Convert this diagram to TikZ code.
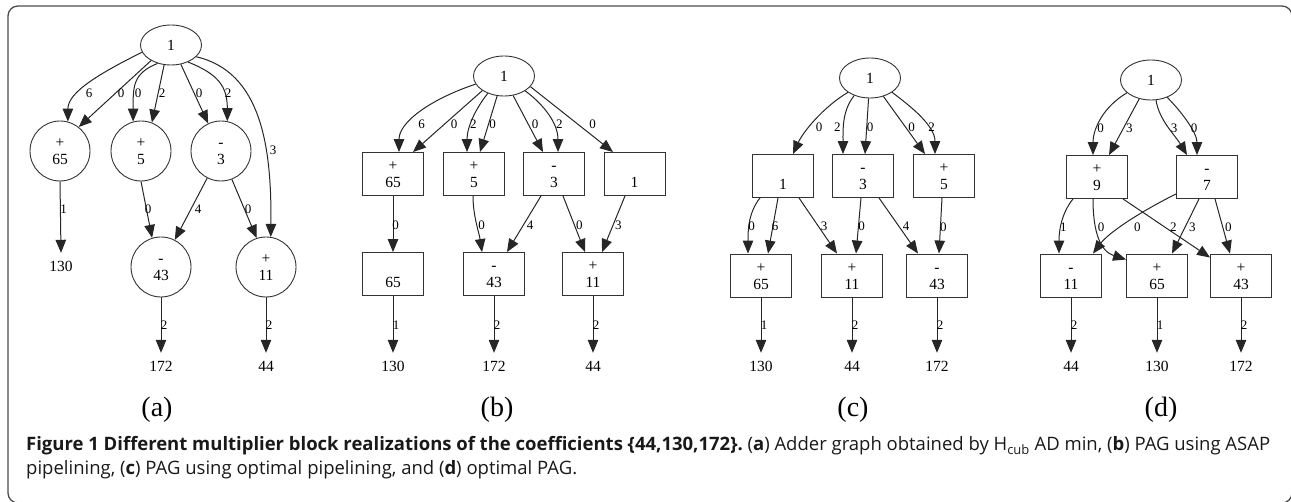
\documentclass[tikz,border=0pt]{standalone}
\usepackage{fontspec}
\setmainfont{Liberation Serif}
\newfontfamily\capfont{Open Sans}
\usetikzlibrary{shapes.geometric,arrows.meta}
\newcommand{\nd}[2]{\rule{0pt}{12pt}#1\\\rule[-1.5pt]{0pt}{1.5pt}#2}
\newcommand{\gap}{\hspace{0pt plus 1fil}\ }
\begin{document}
\begin{tikzpicture}[x=1pt,y=-1pt,
  nodefont/.style={font=\fontsize{15.5}{17}\selectfont},
  ell/.style={ellipse, draw=black!80, line width=0.9pt, minimum width=61pt, minimum height=40pt, inner sep=0pt, nodefont},
  circ/.style={circle, draw=black!80, line width=0.9pt, minimum size=60pt, inner sep=0pt, align=center, nodefont},
  box/.style={rectangle, draw=black!80, line width=0.9pt, minimum width=61pt, minimum height=43pt, inner sep=0pt, align=center, nodefont},
  outn/.style={inner xsep=0pt, inner ysep=9pt, text height=10pt, text depth=0pt, nodefont},
  lbl/.style={inner sep=0pt, font=\fontsize{13}{14}\selectfont},
  sublbl/.style={inner sep=0pt, font=\fontsize{28}{30}\selectfont},
  conn/.style={draw=black!85, line width=1pt, -{Triangle[length=13pt,width=10.5pt]}},
  framebox/.style={draw=black!70, line width=1.3pt, rounded corners=10pt},
  captxt/.style={inner sep=0pt, anchor=base west, text=black!90, font=\capfont\fontsize{18.5}{22}\selectfont}
]
\useasboundingbox (0,0) rectangle (1291,502);
\begin{scope}
  \clip (0,0) rectangle (1291,502);
  \draw[framebox] (8,6) rectangle (1292,503);
\end{scope}

% ---------------- (a) ----------------
\node[ell] (a1) at (171,45) {1};
\node[circ] (a65) at (60,151) {\nd{+}{65}};
\node[circ] (a5) at (141,151) {\nd{+}{5}};
\node[circ] (a3) at (221,151) {\nd{-}{3}};
\node[circ] (a43) at (161,267) {\nd{-}{43}};
\node[circ] (a11) at (266,267) {\nd{+}{11}};
\node[outn] (ao130) at (61,267) {130};
\node[outn] (ao172) at (161,367) {172};
\node[outn] (ao44) at (266,367) {44};
\node[sublbl] (la) at (157,410) {(a)};

\draw[conn] (a1.194) .. controls +(-40,20) and +(0,-30) .. (a65.75) node[lbl,at={(89,93)}] {6};
\draw[conn] (a1.218) -- (a65.52) node[lbl,at={(121,93)}] {0};
\draw[conn] (a1.234) .. controls +(-25,10) and +(0,-35) .. (a5.105) node[lbl,at={(138,93)}] {0};
\draw[conn] (a1.251) -- (a5.69) node[lbl,at={(162,93)}] {2};
\draw[conn] (a1.297) -- (a3.115) node[lbl,at={(199,93)}] {0};
\draw[conn] (a1.315) .. controls +(30,12) and +(0,-35) .. (a3.78) node[lbl,at={(228,93)}] {2};
\draw[conn] (a1.335) .. controls +(65,15) and +(1,-90) .. (a11.81) node[lbl,at={(273,150)}] {3};
\draw[conn] (a65.south) -- (ao130.north) node[lbl,at={(63.5,209)}] {1};
\draw[conn] (a5.south) -- (a43.107) node[lbl,at={(148,209)}] {0};
\draw[conn] (a3.243) -- (a43.63) node[lbl,at={(198,209)}] {4};
\draw[conn] (a3.291) -- (a11.108) node[lbl,at={(248,209)}] {0};
\draw[conn] (a43.south) -- (ao172.north) node[lbl,at={(164,325)}] {2};
\draw[conn] (a11.south) -- (ao44.north) node[lbl,at={(269,325)}] {2};

% ---------------- (b) ----------------
\node[ell] (b1) at (504,76) {1};
\node[box] (b65) at (393,174) {\nd{+}{65}};
\node[box] (b5) at (474,174) {\nd{+}{5}};
\node[box] (b3) at (554,174) {\nd{-}{3}};
\node[box] (bI) at (634.5,174) {\nd{}{1}};
\node[box] (b65b) at (393,274) {\nd{}{65}};
\node[box] (b43) at (494,274) {\nd{-}{43}};
\node[box] (b11) at (593,274) {\nd{+}{11}};
\node[outn] (bo130) at (393,367) {130};
\node[outn] (bo172) at (494,367) {172};
\node[outn] (bo44) at (593,367) {44};
\node[sublbl] (lb) at (497,410) {(b)};

\draw[conn] (b1.196) .. controls +(-45,15) and +(0,-30) .. ([xshift=6pt]b65.north) node[lbl,at={(421.7,124)}] {6};
\draw[conn] (b1.214) -- ([xshift=20pt]b65.north) node[lbl,at={(454,124)}] {0};
\draw[conn] (b1.227) .. controls +(-12,15) and +(0,-25) .. ([xshift=-7pt]b5.north) node[lbl,at={(473.3,124)}] {2};
\draw[conn] (b1.251) -- ([xshift=6pt]b5.north) node[lbl,at={(492.7,124)}] {0};
\draw[conn] (b1.295) -- ([xshift=-11pt]b3.north) node[lbl,at={(535,124)}] {0};
\draw[conn] (b1.325) .. controls +(20,15) and +(0,-28) .. ([xshift=4pt]b3.north) node[lbl,at={(559.3,124)}] {2};
\draw[conn] (b1.338) -- ([xshift=-21.5pt]bI.north) node[lbl,at={(592.7,124)}] {0};
\draw[conn] (b65.south) -- (b65b.north) node[lbl,at={(395.7,225.7)}] {0};
\draw[conn] ([xshift=-1pt]b5.south) .. controls +(0,20) and +(-3,-20) .. ([xshift=-12pt]b43.north) node[lbl,at={(481.7,225.7)}] {0};
\draw[conn] ([xshift=-13pt]b3.south) -- ([xshift=13pt]b43.north) node[lbl,at={(530,225.7)}] {4};
\draw[conn] ([xshift=9pt]b3.south) -- ([xshift=-8pt]b11.north) node[lbl,at={(579.3,225.7)}] {0};
\draw[conn] ([xshift=-9.5pt]bI.south) -- ([xshift=9pt]b11.north) node[lbl,at={(618.3,225)}] {3};
\draw[conn] (b65b.south) -- (bo130.north) node[lbl,at={(396,325)}] {1};
\draw[conn] (b43.south) -- (bo172.north) node[lbl,at={(497,325)}] {2};
\draw[conn] (b11.south) -- (bo44.north) node[lbl,at={(596,325)}] {2};

% ---------------- (c) ----------------
\node[ell] (c1) at (870,78) {1};
\node[box] (cI) at (783,176) {\nd{}{1}};
\node[box] (c3) at (863,176) {\nd{-}{3}};
\node[box] (c5) at (944,176) {\nd{+}{5}};
\node[box] (c65) at (761,275.5) {\nd{+}{65}};
\node[box] (c11) at (852,275.5) {\nd{+}{11}};
\node[box] (c43) at (937,275.5) {\nd{-}{43}};
\node[outn] (co130) at (761,367) {130};
\node[outn] (co44) at (852,367) {44};
\node[outn] (co172) at (937,367) {172};
\node[sublbl] (lc) at (853,410) {(c)};

\draw[conn] (c1.213) .. controls +(-25,15) and +(10,-22) .. ([xshift=10pt]cI.north) node[lbl,at={(819,127)}] {0};
\draw[conn] (c1.228) .. controls +(-12,15) and +(0,-25) .. ([xshift=-20pt]c3.north) node[lbl,at={(837.3,127)}] {2};
\draw[conn] (c1.266) -- ([xshift=2pt]c3.north) node[lbl,at={(870,127)}] {0};
\draw[conn] (c1.306) -- ([xshift=-19pt]c5.north) node[lbl,at={(911.7,127)}] {0};
\draw[conn] (c1.327) .. controls +(20,15) and +(0,-28) .. ([xshift=-9pt]c5.north) node[lbl,at={(931.7,127)}] {2};
\draw[conn] ([xshift=-23pt]cI.south) .. controls +(-12,15) and +(0,-22) .. ([xshift=-13pt]c65.north) node[lbl,at={(751.7,226.7)}] {0};
\draw[conn] ([xshift=-5pt]cI.south) -- ([xshift=7pt]c65.north) node[lbl,at={(775,226.7)}] {6};
\draw[conn] ([xshift=16pt]cI.south) -- ([xshift=-15pt]c11.north) node[lbl,at={(824,226.7)}] {3};
\draw[conn] ([xshift=-2pt]c3.south) -- ([xshift=4pt]c11.north) node[lbl,at={(861.7,226.7)}] {0};
\draw[conn] ([xshift=16pt]c3.south) -- ([xshift=-19pt]c43.north) node[lbl,at={(906,226.7)}] {4};
\draw[conn] ([xshift=-2pt]c5.south) -- ([xshift=2pt]c43.north) node[lbl,at={(943.3,227)}] {0};
\draw[conn] (c65.south) -- (co130.north) node[lbl,at={(764,325)}] {1};
\draw[conn] (c11.south) -- (co44.north) node[lbl,at={(855,325)}] {2};
\draw[conn] (c43.south) -- (co172.north) node[lbl,at={(940,325)}] {2};

% ---------------- (d) ----------------
\node[ell] (d1) at (1151,80) {1};
\node[box] (d9) at (1097,177) {\nd{+}{9}};
\node[box] (d7) at (1207,177) {\nd{-}{7}};
\node[box] (d11) at (1071,275.5) {\nd{-}{11}};
\node[box] (d65) at (1157,275.5) {\nd{+}{65}};
\node[box] (d43) at (1241,275.5) {\nd{+}{43}};
\node[outn] (do44) at (1071,367) {44};
\node[outn] (do130) at (1157,367) {130};
\node[outn] (do172) at (1241,367) {172};
\node[sublbl] (ld) at (1161,410) {(d)};

\draw[conn] (d1.208) .. controls +(-25,15) and +(0,-25) .. ([xshift=-4pt]d9.north) node[lbl,at={(1100.7,128.3)}] {0};
\draw[conn] (d1.238) -- ([xshift=12pt]d9.north) node[lbl,at={(1129.3,128.3)}] {3};
\draw[conn] (d1.284) .. controls +(3,20) and +(-12,-20) .. ([xshift=-20pt]d7.north) node[lbl,at={(1174,128.3)}] {3};
\draw[conn] (d1.313) .. controls +(15,15) and +(0,-22) .. ([xshift=-10pt]d7.north) node[lbl,at={(1194,128.3)}] {0};
\draw[conn] ([xshift=-24pt]d9.south) .. controls +(-12,15) and +(0,-22) .. ([xshift=-12pt]d11.north) node[lbl,at={(1063.3,227.3)}] {1};
\draw[conn] ([xshift=-4pt]d9.south) .. controls +(0,35) and +(-25,-8) .. ([yshift=-6pt]d65.north west) node[lbl,at={(1101,227.3)}] {0};
\draw[conn] ([xshift=26pt]d9.south) -- ([yshift=-4pt]d43.north west) node[lbl,at={(1173.3,227.3)}] {2};
\draw[conn] ([yshift=5pt]d7.south west) .. controls +(-40,20) and +(15,-20) .. ([xshift=22pt]d11.north) node[lbl,at={(1137.3,227.3)}] {0};
\draw[conn] ([xshift=-8pt]d7.south) -- ([xshift=15pt]d65.north) node[lbl,at={(1192.3,227.3)}] {3};
\draw[conn] ([xshift=8pt]d7.south) -- ([xshift=-11pt]d43.north) node[lbl,at={(1228.3,227.3)}] {0};
\draw[conn] (d11.south) -- (do44.north) node[lbl,at={(1074,325)}] {2};
\draw[conn] (d65.south) -- (do130.north) node[lbl,at={(1160,325)}] {1};
\draw[conn] (d43.south) -- (do172.north) node[lbl,at={(1244,325)}] {2};

% ---------------- caption ----------------
\node[captxt] (cap1) at (26,451) {\hbox to 1244pt{\textbf{Figure\gap 1\gap Different\gap multiplier\gap block\gap realizations\gap of\gap the\gap coefficients\gap \{44,130,172\}.}\gap (\textbf{a})\gap Adder\gap graph\gap obtained\gap by\gap H\textsubscript{cub}\gap AD\gap min,\gap (\textbf{b})\gap PAG\gap using\gap ASAP}};
\node[captxt] (cap2) at (26,475) {\hbox to 551pt{pipelining,\gap (\textbf{c})\gap PAG\gap using\gap optimal\gap pipelining,\gap and\gap (\textbf{d})\gap optimal\gap PAG.}};
\end{tikzpicture}
\end{document}
